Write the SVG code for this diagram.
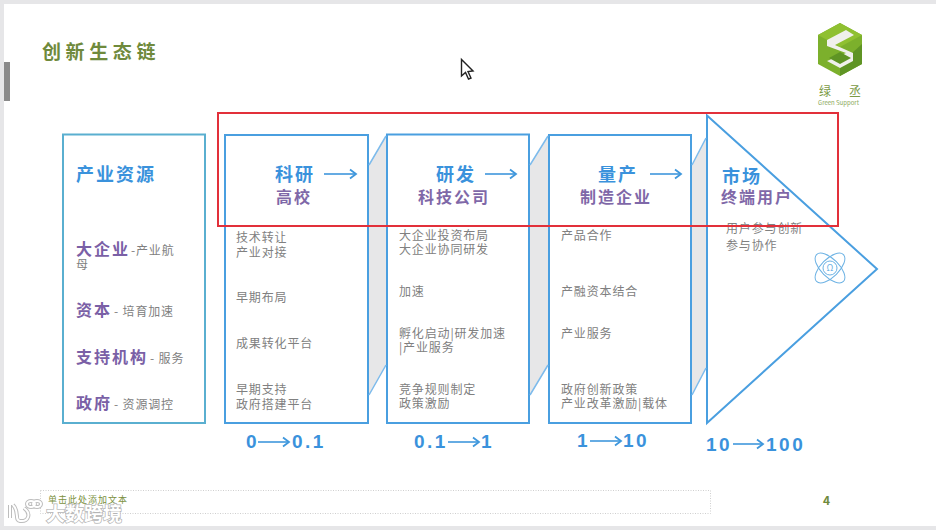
<svg xmlns="http://www.w3.org/2000/svg" width="936" height="530" viewBox="0 0 936 530">
<defs>
<marker id="ah" markerUnits="userSpaceOnUse" markerWidth="12" markerHeight="12" refX="9" refY="6" orient="auto"><path d="M3 1.500L9 6L3 10.500" fill="none" stroke="#3f97dc" stroke-width="1.800"/></marker>
</defs>
<style>
text{font-family:"Noto Sans CJK SC","Noto Sans",sans-serif}
.box{fill:#fff;stroke:#4a9fe0;stroke-width:2}
.res{fill:#fff;stroke:#5aafd0;stroke-width:2}
.fold{fill:#e7e7e8;stroke:none}
.foldl{fill:none;stroke:#7dbbec;stroke-width:1.5}
.h1{font-size:18px;font-weight:700;fill:#3a92dc;letter-spacing:2px}
.h2{font-size:16px;font-weight:700;fill:#7f68a8;letter-spacing:2px}
.b{font-size:12px;fill:#808080;letter-spacing:.85px}
.k{font-size:16px;font-weight:700;fill:#7a60a6;letter-spacing:2px}
.num{font-size:19px;font-weight:700;fill:#3a92dc;font-family:"Liberation Sans",sans-serif;letter-spacing:2.5px}
.arr{fill:none;stroke:#3f97dc;stroke-width:1.600;marker-end:url(#ah)}
</style>
<rect width="936" height="530" fill="#fff"/>
<path d="M0 0H936V4H4V526H936V530H0Z" fill="#e6e6e8"/>
<rect x="4" y="62" width="6" height="39" fill="#8a8a8a"/>
<g id="title"><text x="42" y="59" font-size="19" font-weight="700" fill="#6f8a3c" letter-spacing="4.600">创新生态链</text></g>
<g id="logo">
<path d="M840 23L862 35V64L840 76L818 64V35Z" fill="#7cb02c"/>
<path d="M840 23L862 35L840 47L818 35Z" fill="#8fc031"/>
<path d="M862 44V64L840 76V64Z" fill="#5f9424"/>
<path d="M827 40L846 30L854 35L835 45L853 53V61L840 68L827 61L846 53L827 46Z" fill="#f0f0ec"/>
<path d="M829 58L840 52L851 58L840 64Z" fill="#5f9424"/>
<text x="819" y="96" font-size="12" fill="#7b9a45">绿</text>
<text x="849" y="96" font-size="12" fill="#7b9a45">丞</text>
<text x="818" y="105" font-size="6" fill="#8aa85a" font-family="Liberation Sans,sans-serif">Green Support</text>
</g>
<g id="node-resources">
<rect class="res" x="63" y="134.500" width="142" height="288.500"/>
<text class="h1" x="76" y="181">产业资源</text>
<text class="k" x="76" y="255">大企业</text><text class="b" x="131" y="255">-产业航</text><text class="b" x="76" y="269">母</text>
<text class="k" x="76" y="316">资本</text><text class="b" x="114" y="316">- 培育加速</text>
<text class="k" x="76" y="363">支持机构</text><text class="b" x="150" y="363">- 服务</text>
<text class="k" x="76" y="409">政府</text><text class="b" x="114" y="409">- 资源调控</text>
</g>
<g id="node-research">
<rect class="box" x="225" y="135" width="143" height="288"/>
<text class="h1" x="275" y="181">科研</text><text class="h2" x="276" y="203">高校</text>
<text class="b" x="236" y="242">技术转让</text><text class="b" x="236" y="257">产业对接</text>
<text class="b" x="236" y="302">早期布局</text>
<text class="b" x="236" y="348">成果转化平台</text>
<text class="b" x="236" y="394">早期支持</text><text class="b" x="236" y="409">政府搭建平台</text>
<text class="num" x="246" y="448">0</text><text class="num" x="292" y="448">0.1</text>
</g>
<g id="node-dev">
<rect class="box" x="387" y="134.500" width="142" height="288.500"/>
<text class="h1" x="436" y="181">研发</text><text class="h2" x="418" y="203">科技公司</text>
<text class="b" x="399" y="240">大企业投资布局</text><text class="b" x="399" y="254">大企业协同研发</text>
<text class="b" x="399" y="296">加速</text>
<text class="b" x="399" y="338">孵化启动|研发加速</text><text class="b" x="399" y="352">|产业服务</text>
<text class="b" x="399" y="394">竞争规则制定</text><text class="b" x="399" y="408">政策激励</text>
<text class="num" x="414" y="448">0.1</text><text class="num" x="481" y="448">1</text>
</g>
<g id="node-mass">
<rect class="box" x="549" y="135" width="142" height="288"/>
<text class="h1" x="598" y="181">量产</text><text class="h2" x="580" y="203">制造企业</text>
<text class="b" x="561" y="240">产品合作</text>
<text class="b" x="561" y="296">产融资本结合</text>
<text class="b" x="561" y="338">产业服务</text>
<text class="b" x="561" y="394">政府创新政策</text><text class="b" x="561" y="408">产业改革激励|载体</text>
<text class="num" x="577" y="447">1</text><text class="num" x="623" y="447">10</text>
</g>
<g id="node-market">
<path class="box" d="M707 115.500L877 269L707 423Z"/>
<text class="h1" x="722" y="183">市场</text><text class="h2" x="721" y="203">终端用户</text>
<text class="b" x="726" y="233">用户参与创新</text><text class="b" x="726" y="250">参与协作</text>
<g fill="none" stroke="#6cb2e4" stroke-width="1">
<ellipse cx="830" cy="268" rx="19" ry="9" transform="rotate(45 830 268)"/>
<ellipse cx="830" cy="268" rx="19" ry="9" transform="rotate(-45 830 268)"/>
<circle cx="830" cy="268" r="7"/>
</g>
<text x="830" y="271" font-size="9" fill="#6cb2e4" text-anchor="middle">Ω</text>
<text class="num" x="706" y="451">10</text><text class="num" x="766" y="451">100</text>
</g>
<g id="connectors">
<path class="fold" d="M369 165L386 136V365L369 395Z"/><path class="foldl" d="M369 165L386 136M369 395L386 365"/>
<path class="fold" d="M530 165L548 136V365L530 395Z"/><path class="foldl" d="M530 165L548 136M530 395L548 365"/>
<path class="fold" d="M692 165L706 138V368L692 395Z"/><path class="foldl" d="M692 165L706 138M692 395L706 368"/>
<path class="arr" d="M324 174H356"/>
<path class="arr" d="M485 174H516"/>
<path class="arr" d="M650 174H681"/>
<path class="arr" d="M258 442H289"/>
<path class="arr" d="M448 442H479"/>
<path class="arr" d="M590 441H621"/>
<path class="arr" d="M733 444H763"/>
</g>
<rect id="highlight" x="218" y="113" width="620" height="113" fill="none" stroke="#e2303a" stroke-width="2"/>
<g id="footer">
<rect x="40.500" y="490.500" width="670" height="23" fill="none" stroke="#cfcfcf" stroke-width="1" stroke-dasharray="1 1.500"/>
<text x="48" y="503" font-size="9" fill="#7b9040" letter-spacing="1">单击此处添加文本</text>
<text x="823" y="505" font-size="12" font-weight="700" fill="#6f8a3c" font-family="Liberation Sans,sans-serif">4</text>
</g>
<g id="watermark">
<path d="M10 505V518M13 505C20 512 14 520 20 521C28 522 32 514 24 508M27 504a4 3 0 1 0 8 0a4 3 0 1 0 -8 0M33 504a4 3 0 1 0 8 0a4 3 0 1 0 -8 0" fill="none" stroke="#bdbdbd" stroke-width="4"/>
<path d="M10 505V518M13 505C20 512 14 520 20 521C28 522 32 514 24 508M27 504a4 3 0 1 0 8 0a4 3 0 1 0 -8 0M33 504a4 3 0 1 0 8 0a4 3 0 1 0 -8 0" fill="none" stroke="#fff" stroke-width="2"/>
<text x="46" y="521" font-size="19" font-weight="700" fill="#fff" stroke="#b5b5b5" stroke-width="1.500" paint-order="stroke">大数跨境</text>
</g>
<path id="cursor" d="M461.500 59.500V76L465.500 72.500L468.500 79L471 78L468 71.500L473 71Z" fill="#fff" stroke="#222" stroke-width="1.400"/>
</svg>
